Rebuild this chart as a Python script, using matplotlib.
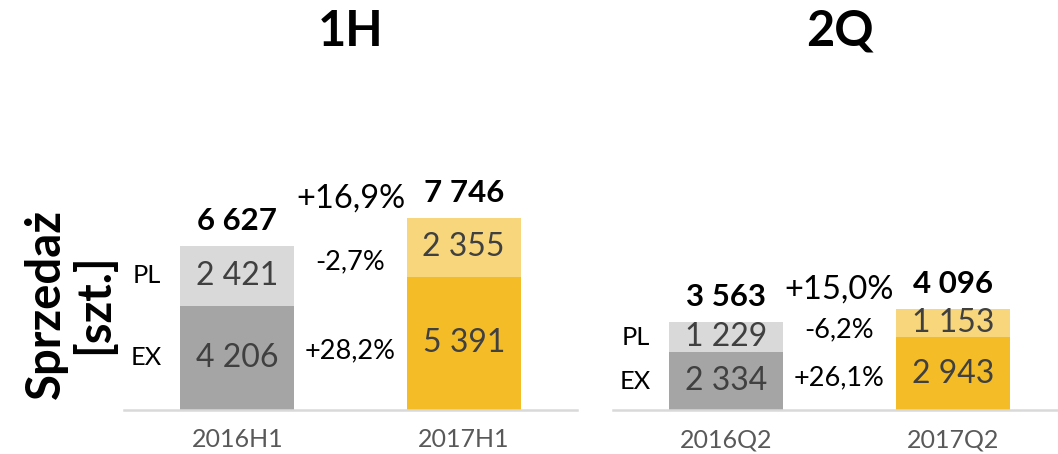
import matplotlib
matplotlib.use("Agg")
import matplotlib.pyplot as plt

plt.rcParams['font.family'] = ['Lato', 'DejaVu Sans']

# Data
panel_titles = ["1H", "2Q"]
categories_h = ["2016H1", "2017H1"]
categories_q = ["2016Q2", "2017Q2"]
ex_h = [4206, 5391]
pl_h = [2421, 2355]
ex_q = [2334, 2943]
pl_q = [1229, 1153]
change_total = ["+16,9%", "+15,0%"]
change_pl = ["-2,7%", "-6,2%"]
change_ex = ["+28,2%", "+26,1%"]
segment_names = ["EX", "PL"]
ylabel = "Sprzedaż\n[szt.]"

def fmt(v):
    return f"{v:,}".replace(",", " ")

W, H = 1058, 454
fig = plt.figure(figsize=(W / 100, H / 100), dpi=100)

ymax = 12500
base_px = 410
px_per_unit = 0.02475
ax_h = ymax * px_per_unit
ax_w = 453

ex_colors = ["#A5A5A5", "#F4BD28"]
pl_colors = ["#D9D9D9", "#F8D67B"]
val_color = "#404040"

panels = [
    (124, categories_h, ex_h, pl_h, 0),
    (613, categories_q, ex_q, pl_q, 1),
]

for left_px, cats, ex, pl, i in panels:
    ax = fig.add_axes([left_px / W, (H - base_px) / H, ax_w / W, ax_h / H])
    x = [0, 1]
    width = 0.503
    ax.bar(x, ex, width=width, color=ex_colors, zorder=2)
    ax.bar(x, pl, width=width, bottom=ex, color=pl_colors, zorder=2)
    ax.set_xlim(-0.5, 1.5)
    ax.set_ylim(0, ymax)
    for s in ["top", "right", "left"]:
        ax.spines[s].set_visible(False)
    ax.spines["bottom"].set_color("#D9D9D9")
    ax.spines["bottom"].set_linewidth(1.8)
    ax.set_yticks([])
    ax.set_xticks(x)
    ax.set_xticklabels(cats, fontsize=18, color="#595959")
    ax.tick_params(axis="x", length=0, pad=13)

    totals = [e + p for e, p in zip(ex, pl)]
    for j in range(2):
        ax.text(x[j], ex[j] / 2, fmt(ex[j]), ha="center", va="center",
                fontsize=23, color=val_color, zorder=3)
        ax.text(x[j], ex[j] + pl[j] / 2, fmt(pl[j]), ha="center", va="center",
                fontsize=23, color=val_color, zorder=3)
        ax.annotate(fmt(totals[j]), (x[j], totals[j]), xytext=(0, 18),
                    textcoords="offset points", ha="center", va="center",
                    fontsize=22.5, fontweight="bold", color="black")

    # segment names left of first bar
    ax.text(-0.40, ex[0] / 2, segment_names[0], ha="center", va="center",
            fontsize=18.3, color="black")
    ax.text(-0.40, ex[0] + pl[0] / 2, segment_names[1], ha="center", va="center",
            fontsize=18.3, color="black")

    # change labels between bars
    ex_mid = (ex[0] / 2 + ex[1] / 2) / 2
    pl_mid = ((ex[0] + pl[0] / 2) + (ex[1] + pl[1] / 2)) / 2
    ax.text(0.5, ex_mid, change_ex[i], ha="center", va="center", fontsize=19.5)
    ax.text(0.5, pl_mid, change_pl[i], ha="center", va="center", fontsize=19.5)
    ax.annotate(change_total[i], (0.5, max(totals)), xytext=(0, 14),
                textcoords="offset points", ha="center", va="center",
                fontsize=23.5)

# Titles
fig.text((124 + ax_w / 2) / W, 1 - 31 / H, panel_titles[0], ha="center", va="center",
         fontsize=35, fontweight="bold")
fig.text((613 + ax_w / 2) / W, 1 - 31 / H, panel_titles[1], ha="center", va="center",
         fontsize=35, fontweight="bold")

fig.text(70 / W, 1 - 304 / H, ylabel, rotation=90, ha="center", va="center",
         fontsize=34, fontweight="bold", linespacing=1.1, multialignment="center")

fig.savefig("out.png", dpi=100)
